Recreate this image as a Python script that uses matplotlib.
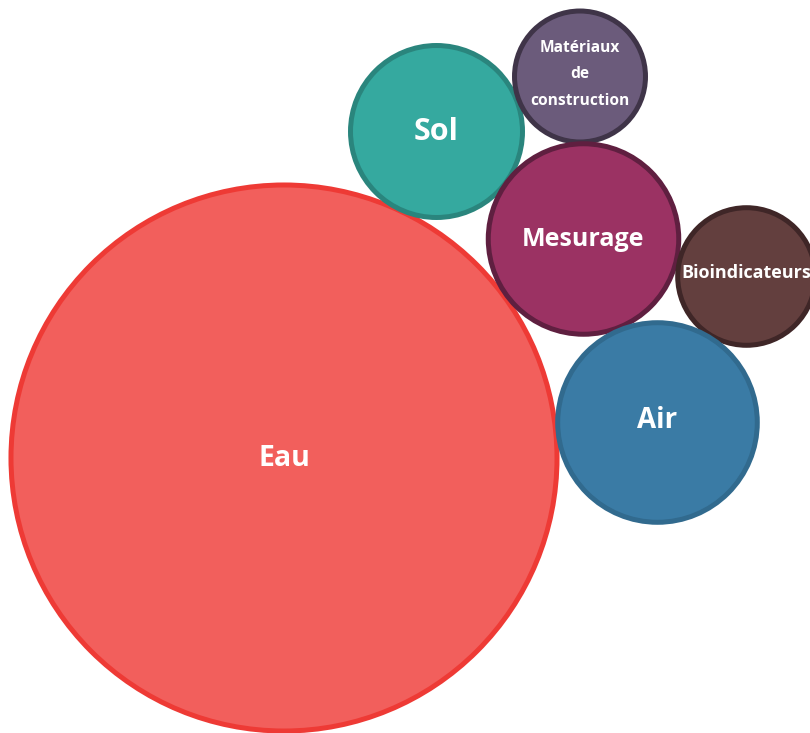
import numpy as np
import matplotlib
matplotlib.use("Agg")
import matplotlib.pyplot as plt
from matplotlib.patches import Circle

# Bubble data (x, y position in chart units, bubble size)
categories = ["Eau", "Sol", "Matériaux\nde\nconstruction", "Mesurage", "Bioindicateurs", "Air"]
x_vals = [284, 436.5, 580, 583.5, 746.5, 657.5]
y_vals = [458, 131.5, 76.5, 239, 276.5, 422.5]
sizes = [75.6, 7.5, 4.35, 9.2, 4.8, 10.1]

fill_colors = ["#F25F5C", "#35A99F", "#6B5B7B", "#9B3263", "#633F3E", "#3A7BA5"]
edge_colors = ["#EE3A35", "#2A857D", "#3F3448", "#5F1F40", "#3F2627", "#316A8E"]
font_sizes = [20.5, 22, 11.2, 18, 13, 20]
label_dy = [0, 0, -2, 0, -3, -2]
line_sp = [1.2, 1.2, 1.85, 1.2, 1.2, 1.2]

fig = plt.figure(figsize=(8.10, 7.33), dpi=100)
ax = fig.add_axes([0, 0, 1, 1])
ax.set_xlim(0, 810)
ax.set_ylim(733, 0)
ax.set_aspect("equal")
ax.axis("off")

scale = 31.4
for cat, xv, yv, s, fc, ec, fs, dy, ls in zip(categories, x_vals, y_vals, sizes,
                                               fill_colors, edge_colors, font_sizes,
                                               label_dy, line_sp):
    r = np.sqrt(s) * scale
    ax.add_patch(Circle((xv, yv), r, facecolor=fc, edgecolor=ec, linewidth=3.6, zorder=2))
    ax.text(xv, yv + dy, cat, ha="center", va="center", color="white",
            fontsize=fs, fontweight="bold", family=["Open Sans", "DejaVu Sans"],
            linespacing=ls, zorder=3)

fig.savefig("out.png", dpi=100)
